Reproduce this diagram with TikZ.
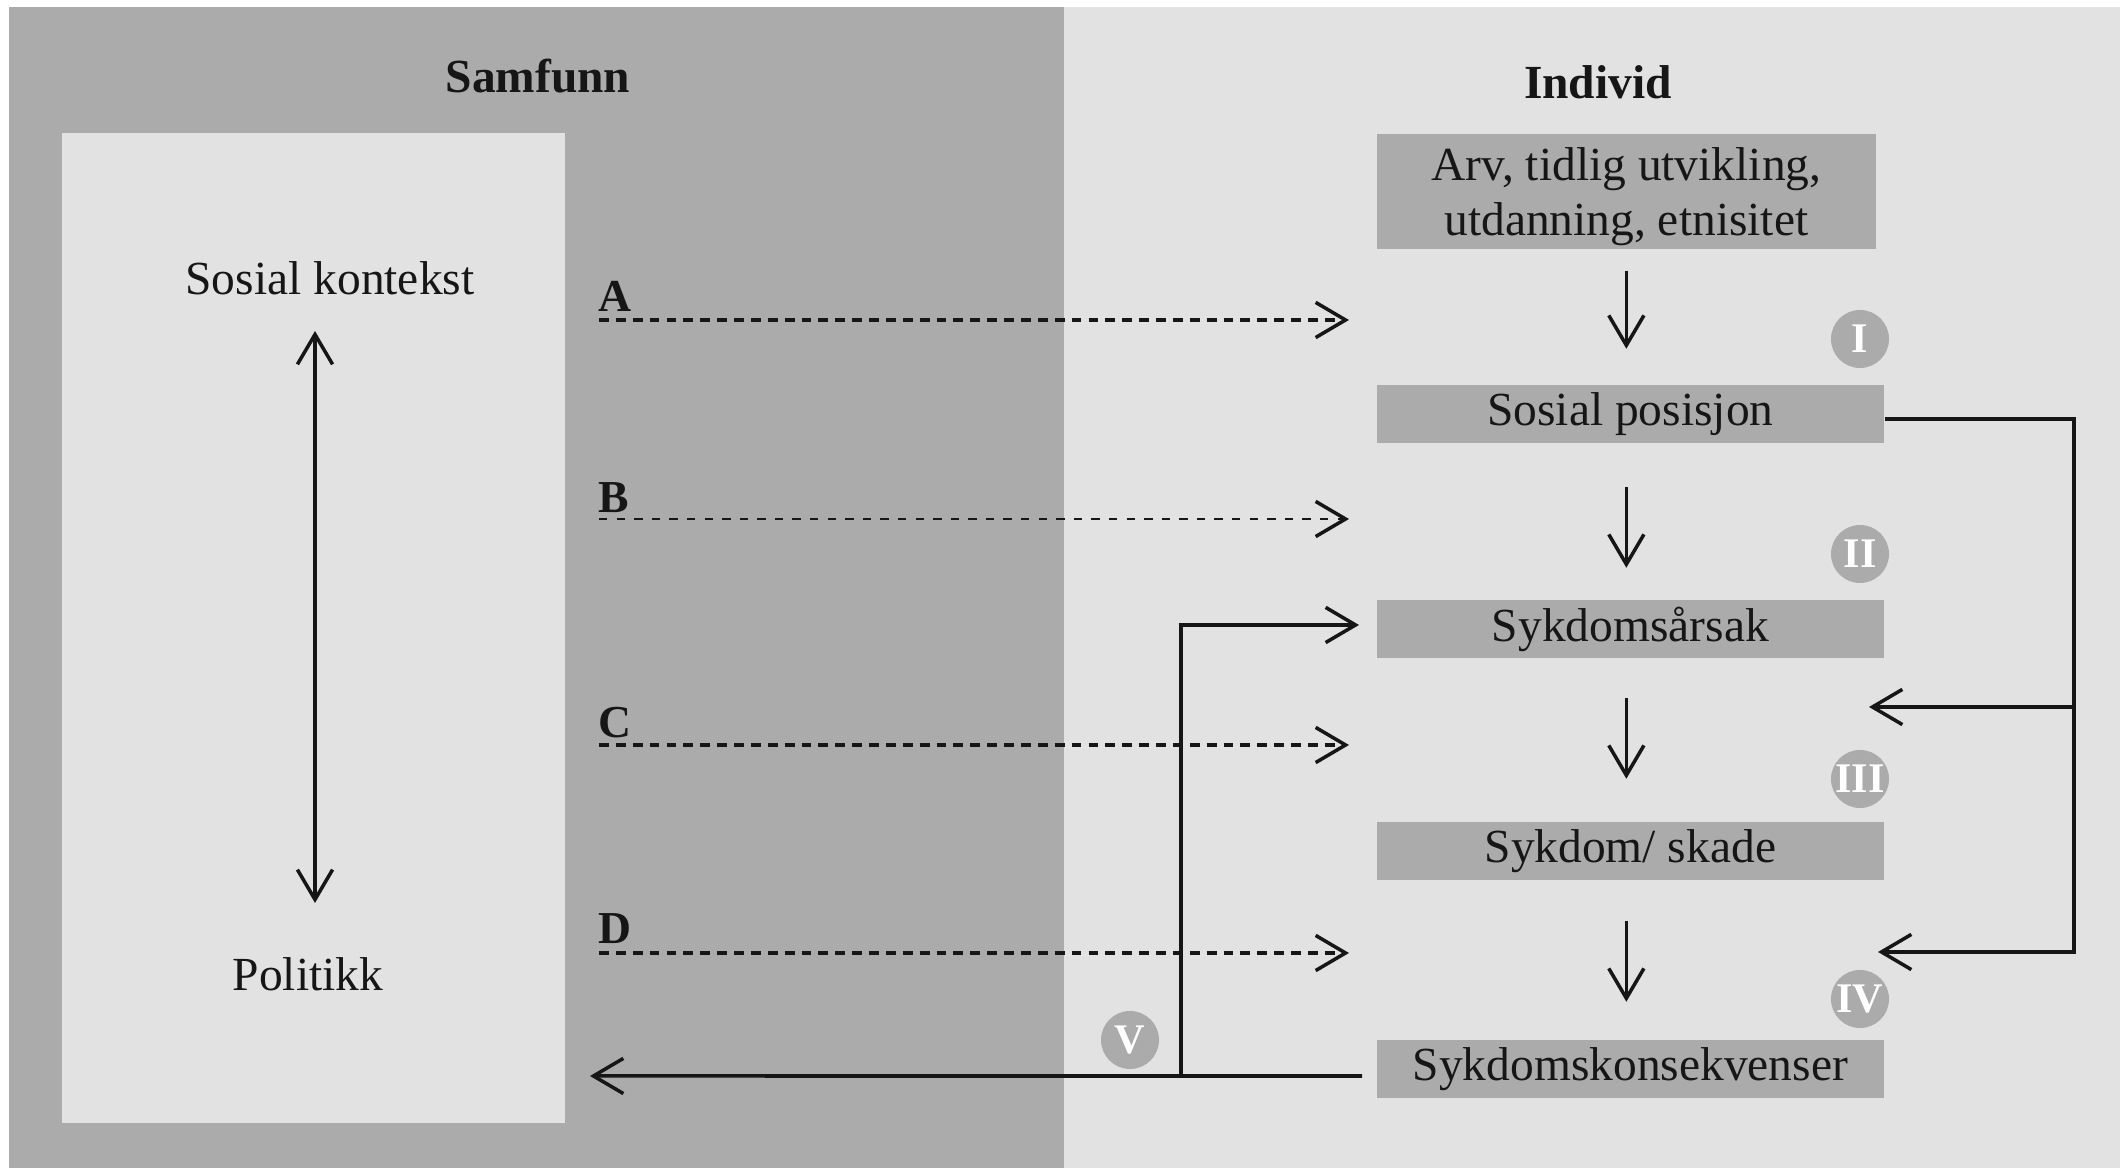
\documentclass[tikz,border=0pt]{standalone}
\usepackage{fontspec}
\setmainfont{Liberation Serif}
\usetikzlibrary{arrows.meta}
\definecolor{dk}{HTML}{ABABAB}
\definecolor{lt}{HTML}{E2E2E2}
\definecolor{ink}{HTML}{161616}
\tikzset{
  txt/.style={font=\fontsize{13.5}{15.5}\selectfont, text=ink, inner sep=0pt},
  ttl/.style={font=\fontsize{13.5}{15.5}\selectfont\bfseries, text=ink, inner sep=0pt},
  lbl/.style={font=\fontsize{13}{13}\selectfont\bfseries, text=ink, inner sep=0pt, anchor=base west},
  gbox/.style={fill=dk, draw=none, inner sep=0pt, align=center, anchor=west,
     minimum width=5.07cm, minimum height=0.57cm, font=\fontsize{13.5}{15.5}\selectfont, text=ink},
  rom/.style={circle, fill=dk, draw=none, minimum size=0.58cm, inner sep=0pt, text=white,
     font=\fontsize{12}{12}\selectfont\bfseries},
  sline/.style={draw=ink, line width=1pt},
  arr/.style={-{Straight Barb[length=8.5pt,width=10pt,line width=1pt]}},
  arrr/.style={{Straight Barb[length=8.5pt,width=10pt,line width=1pt]}-{Straight Barb[length=8.5pt,width=10pt,line width=1pt]}},
  dthick/.style={draw=ink, line width=1.3pt, dash pattern=on 2.8pt off 2pt},
  dthin/.style={draw=ink, line width=0.7pt, dash pattern=on 2.4pt off 2.6pt},
}
\begin{document}
\begin{tikzpicture}[x=0.01cm,y=-0.01cm]
% canvas
\path[use as bounding box, fill=white] (0,0) rectangle (2120,1168);
\fill[dk] (9,7) rectangle (1064,1168);
\fill[lt] (1064,7) rectangle (2120,1168);
\fill[lt] (62,133) rectangle (565,1123);

% titles
\node[ttl] (samfunn) at (538,76) {Samfunn};
\node[ttl] (individ) at (1598,82) {Individ};

% left panel
\node[txt] (sk) at (330,278) {Sosial kontekst};
\node[txt] (pol) at (308,974) {Politikk};
\coordinate (dT) at (315,331);
\coordinate (dB) at (315,903);
\draw[sline,arrr] (dT) -- (dB);

% right column boxes
\node[gbox, minimum width=4.99cm, minimum height=1.15cm] (b1) at (1376,191.5) {\rule{0pt}{12.3pt}Arv, tidlig utvikling,\\utdanning, etnisitet};
\node[gbox] (b2) at (1376,414) {Sosial posisjon};
\node[gbox] (b3) at (1376,629) {Sykdomsårsak};
\node[gbox] (b4) at (1376,851) {Sykdom/ skade};
\node[gbox] (b5) at (1376,1069) {Sykdomskonsekvenser};

% down arrows
\draw[sline,arr,shorten <=0.21cm,shorten >=0.36cm] (b1.south) -- (b1.south |- b2.north);
\draw[sline,arr,shorten <=0.44cm,shorten >=0.32cm] (b1.south |- b2.south) -- (b1.south |- b3.north);
\draw[sline,arr,shorten <=0.40cm,shorten >=0.43cm] (b1.south |- b3.south) -- (b1.south |- b4.north);
\draw[sline,arr,shorten <=0.41cm,shorten >=0.38cm] (b1.south |- b4.south) -- (b1.south |- b5.north);

% roman numerals
\node[rom] (r1) at (1860,339) {I};
\node[rom] (r2) at (1860,554) {II};
\node[rom] (r3) at (1860,779) {III};
\node[rom] (r4) at (1860,999) {IV};
\node[rom] (r5) at (1130,1040) {V};

% dashed influence arrows
\node[lbl] (la) at (598,312) {A};
\node[lbl] (lb) at (598,513) {B};
\node[lbl] (lc) at (598,738) {C};
\node[lbl] (ld) at (598,944) {D};
\coordinate (aS) at (599,320);  \coordinate (aE) at (1349,320);
\coordinate (bS) at (599,519);  \coordinate (bE) at (1349,519);
\coordinate (cS) at (599,745);  \coordinate (cE) at (1349,745);
\coordinate (dS) at (599,953);  \coordinate (dE) at (1349,953);
\draw[dthick,arr] (aS) -- (aE);
\draw[dthin,arr] (bS) -- (bE);
\draw[dthick,arr] (cS) -- (cE);
\draw[dthick,arr] (dS) -- (dE);

% feedback on the right
\coordinate (rTop) at (2074,419);
\coordinate (rMid) at (2074,707);
\coordinate (tipMid) at (1869,707);
\coordinate (tipLow) at (1878,952);
\draw[sline,arr] (b2.east |- rTop) -- (rTop) |- (tipLow);
\draw[sline,arr] (rMid) -- (tipMid);

% bottom feedback
\coordinate (botL) at (590,1076);
\coordinate (jV) at (1181,1076);
\draw[sline,arr] ([yshift=-0.07cm]b5.west) ++(-0.14cm,0) -- (botL);
\draw[sline,arr,shorten >=0.17cm] (jV) |- ([yshift=0.04cm]b3.west);
\end{tikzpicture}
\end{document}
